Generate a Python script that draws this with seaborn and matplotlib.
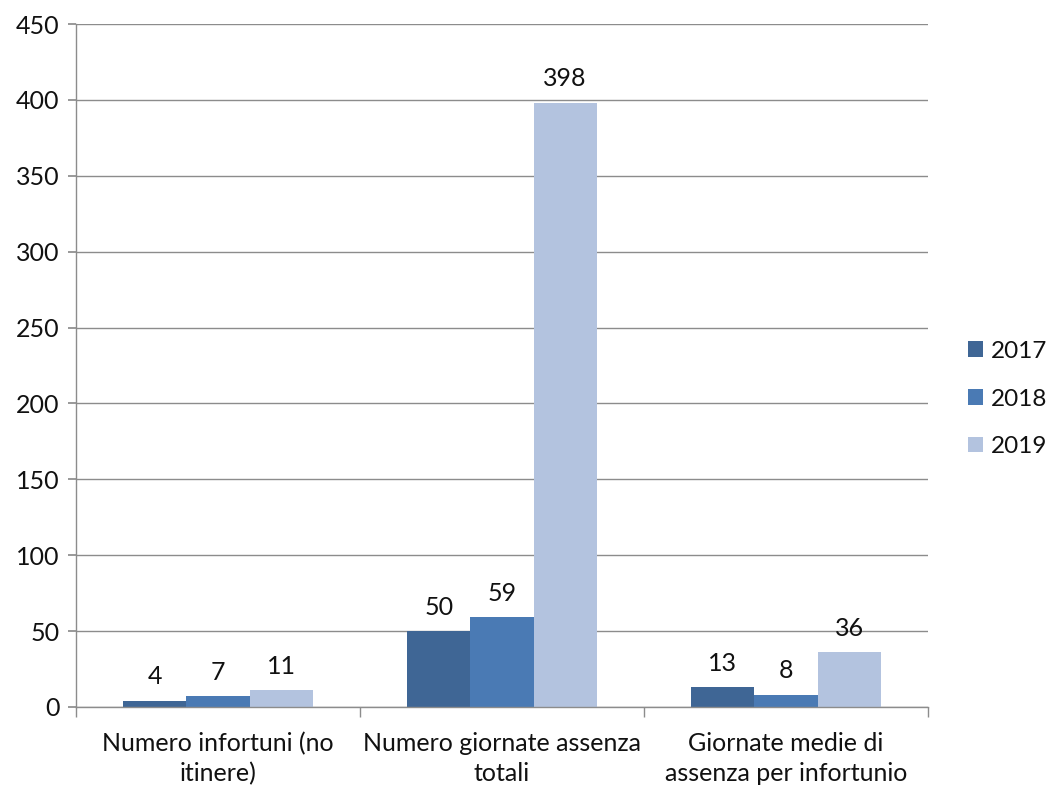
import matplotlib
matplotlib.use("Agg")
import matplotlib.pyplot as plt
import seaborn as sns
import pandas as pd
import numpy as np

# Data
categories = ["Numero infortuni (no\nitinere)",
              "Numero giornate assenza\ntotali",
              "Giornate medie di\nassenza per infortunio"]
years = ["2017", "2018", "2019"]
values_2017 = [4, 50, 13]
values_2018 = [7, 59, 8]
values_2019 = [11, 398, 36]
colors = ["#3F6695", "#4A7AB4", "#B3C3DF"]
y_ticks = [0, 50, 100, 150, 200, 250, 300, 350, 400, 450]

df = pd.DataFrame({
    "categoria": categories * 3,
    "anno": [y for y in years for _ in categories],
    "valore": values_2017 + values_2018 + values_2019,
})

sns.set_theme(style="white")
plt.rcParams["font.family"] = ["Lato", "DejaVu Sans"]

fig = plt.figure(figsize=(10.48, 7.85), dpi=100)
ax = fig.add_axes([76 / 1048, 78 / 785, (928 - 76) / 1048, (707 - 24) / 785])

sns.barplot(data=df, x="categoria", y="valore", hue="anno",
            palette=colors, width=0.667, saturation=1, ax=ax,
            edgecolor="none", linewidth=0, legend=True)

grid_color = "#8C8C8C"
fs = 18
ax.set_ylim(0, 450)
ax.set_xlim(-0.5, 2.5)
ax.set_yticks(y_ticks)
ax.set_yticklabels([str(t) for t in y_ticks])
ax.yaxis.grid(True, color=grid_color, linewidth=1)
ax.set_axisbelow(True)
for s in ["top", "right"]:
    ax.spines[s].set_visible(False)
for s in ["left", "bottom"]:
    ax.spines[s].set_color(grid_color)
    ax.spines[s].set_linewidth(1)

ax.tick_params(axis="y", which="major", length=6, color=grid_color,
               labelsize=fs, pad=6, left=True, labelcolor="#111111")
ax.tick_params(axis="x", which="major", length=0, labelsize=fs, pad=18,
               labelcolor="#111111")
for lbl in ax.get_xticklabels():
    lbl.set_linespacing(1.35)
ax.set_xticks([-0.5, 0.5, 1.5, 2.5], minor=True)
ax.tick_params(axis="x", which="minor", length=7, color=grid_color,
               bottom=True, width=1)
ax.set_xlabel("")
ax.set_ylabel("")

for container in ax.containers:
    ax.bar_label(container, labels=[f"{v:g}" for v in container.datavalues],
                 padding=9, fontsize=fs, color="#111111")

handles, labels = ax.get_legend_handles_labels()
leg = ax.legend(handles, labels, loc="center left",
                bbox_to_anchor=(968 / 1048, (785 - 399) / 785),
                bbox_transform=fig.transFigure,
                frameon=False, fontsize=17.5, handlelength=0.6, handleheight=0.6,
                handletextpad=0.35, labelspacing=1.1, borderpad=0, borderaxespad=0)
for t in leg.get_texts():
    t.set_color("#111111")

fig.savefig("out.png", dpi=100, facecolor="white")
